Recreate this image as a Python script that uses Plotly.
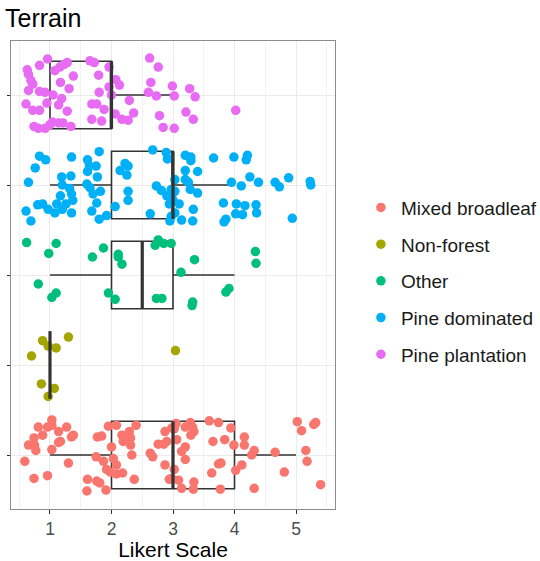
import plotly.graph_objects as go

# Land-cover categories, bottom to top on the vertical axis
categories = ["Mixed broadleaf", "Non-forest", "Other", "Pine dominated", "Pine plantation"]
colors = ["#F8766D", "#A3A500", "#00BF7D", "#00B0F6", "#E76BF3"]

# Box statistics per category (Likert scale)
box_low = [1, 1, 1, 1, 1]
box_q1 = [2, 1, 2, 2, 1]
box_median = [3, 1, 2.5, 3, 2]
box_q3 = [4, 1, 3, 3, 2]
box_high = [5, 1, 4, 4, 3]

# Jittered responses: Likert value (x) and vertical jitter within the category band
mixed_x = [0.59, 0.65, 0.74, 0.75, 0.77, 0.81, 0.88, 0.96, 1.03, 1.03, 1.14, 1.14, 1.17, 1.27,
           1.35, 1.38, 1.03, 1.30, 0.74, 0.96, 1.61, 1.60, 1.76, 1.81, 1.91, 1.75, 1.77, 1.84,
           1.87, 1.92, 1.98, 1.95, 2.08, 2.00, 2.03, 2.08, 2.08, 2.18, 2.17, 2.19, 2.29, 2.31,
           2.31, 2.40, 2.33, 2.37, 2.63, 2.67, 2.76, 2.87, 2.85, 2.90, 2.87, 2.94, 2.98,
           3.05, 3.02, 3.06, 3.20, 3.28, 3.32, 3.34, 3.29, 3.20, 3.14, 3.20, 3.02, 2.98, 3.09,
           3.14, 3.34, 3.33, 3.59, 3.74, 3.94, 3.65, 3.84, 3.99, 3.74, 3.78, 3.63, 3.77, 4.02,
           4.12, 4.16, 4.16, 4.28, 4.32, 4.32, 4.66, 4.81, 5.02, 5.09, 5.29, 5.32, 5.16, 5.18, 5.40]
mixed_jit = [-0.07, 0.11, 0.19, 0.11, 0.05, 0.31, 0.22, 0.31, 0.39, 0.33, 0.26, 0.14, 0.15, 0.31,
             0.20, 0.22, 0.06, -0.09, -0.26, -0.23, -0.27, -0.40, -0.29, -0.31, -0.39, -0.02, 0.20, 0.21,
             -0.07, -0.16, -0.19, 0.32, 0.33, 0.09, -0.04, -0.11, -0.21, -0.20, 0.22, 0.15, 0.26, 0.19,
             0.11, 0.33, 0.00, -0.27, 0.02, -0.02, 0.12, 0.26, 0.12, 0.15, -0.11, -0.27, 0.30,
             0.35, 0.29, 0.17, 0.31, 0.36, 0.31, 0.26, 0.22, 0.09, 0.04, -0.05, -0.16, -0.26, -0.28,
             -0.37, -0.30, -0.38, 0.38, 0.36, 0.30, 0.15, 0.17, 0.11, -0.10, -0.09, -0.20, -0.38, -0.17,
             -0.11, 0.20, 0.11, 0.00, 0.05, -0.37, 0.03, -0.19, 0.37, 0.27, 0.34, 0.36, 0.05, -0.07, -0.33]

nonforest_x = [0.88, 0.97, 1.10, 1.30, 0.70, 3.04, 0.86, 1.07, 0.97]
nonforest_jit = [0.27, 0.21, 0.19, 0.31, 0.10, 0.16, -0.21, -0.26, -0.35]

other_x = [0.62, 1.10, 0.98, 0.81, 1.03, 1.10, 1.69, 1.87, 2.11, 2.11, 2.17, 1.95, 2.06, 2.71,
           2.76, 2.85, 2.97, 2.73, 2.82, 3.13, 3.35, 3.32, 3.31, 3.86, 3.91, 4.34, 4.35]
other_jit = [0.36, 0.35, 0.24, -0.10, -0.25, -0.20, 0.20, 0.30, 0.23, 0.20, 0.12, -0.20, -0.27, 0.33,
             0.39, 0.35, 0.35, -0.26, -0.26, 0.03, 0.17, -0.30, -0.34, -0.19, -0.15, 0.26, 0.13]

pinedom_x = [0.83, 0.93, 0.76, 0.65, 0.61, 0.69, 0.80, 0.88, 0.97, 1.08, 1.11, 1.17, 1.20, 1.26,
             1.35, 1.19, 1.20, 1.34, 1.32, 1.35, 1.37, 1.35, 1.61, 1.80, 1.64, 1.75, 1.61, 1.77,
             1.60, 1.65, 1.70, 1.82, 1.76, 1.68, 1.80, 1.92, 2.06, 2.14, 2.22, 2.27, 2.25, 2.27,
             2.27, 2.67, 2.89, 2.91, 2.73, 2.81, 2.63, 2.90, 2.94, 2.95, 2.97, 3.00, 2.97,
             3.20, 3.29, 3.29, 3.20, 3.40, 3.03, 3.20, 3.25, 3.28, 3.40, 3.03, 2.98, 3.10, 3.33,
             3.03, 3.14, 3.32, 3.66, 3.99, 4.21, 4.19, 3.95, 4.11, 4.25, 4.39, 4.66, 4.73, 4.88,
             5.23, 5.24, 3.82, 4.03, 4.17, 4.35, 4.36, 4.02, 4.13, 3.86, 3.83, 4.94]
pinedom_jit = [0.32, 0.28, 0.19, 0.03, -0.29, -0.40, -0.22, -0.21, -0.27, -0.31, -0.21, -0.12, -0.27, -0.21,
               -0.31, 0.09, 0.00, 0.10, -0.04, -0.10, -0.17, 0.31, 0.28, 0.37, 0.21, 0.21, 0.15, 0.09,
               0.01, -0.03, -0.10, -0.07, -0.20, -0.29, -0.38, -0.34, -0.24, 0.16, 0.24, 0.21, 0.11, -0.07,
               -0.17, 0.39, 0.36, 0.29, -0.01, -0.06, -0.32, -0.12, -0.21, -0.40, -0.05, -0.17, -0.35,
               0.33, 0.31, 0.27, 0.16, 0.15, 0.06, 0.06, 0.03, -0.05, -0.09, -0.07, -0.12, -0.21, -0.27,
               -0.31, -0.39, -0.40, 0.30, 0.31, 0.33, 0.28, 0.03, -0.01, 0.09, 0.03, 0.03, -0.02, 0.08,
               0.04, 0.00, -0.20, -0.21, -0.23, -0.22, -0.31, -0.32, -0.33, -0.38, -0.41, -0.37]

pineplant_x = [0.96, 0.83, 0.63, 0.65, 0.69, 0.72, 0.65, 0.83, 0.92, 1.05, 0.61, 0.72, 0.83, 0.95,
               0.74, 0.81, 0.92, 1.00, 1.04, 1.14, 1.21, 1.34, 1.28, 1.14, 1.19, 1.17, 1.31, 1.38,
               1.08, 1.16, 1.23, 1.28, 1.65, 1.72, 1.79, 1.96, 1.80, 1.96, 2.00, 1.68, 1.76, 1.88,
               1.68, 1.84, 2.07, 2.13, 2.29, 2.06, 2.17, 2.27, 2.36, 2.62, 2.76, 2.64, 2.60, 2.73,
               2.99, 3.02, 3.27, 3.36, 2.78, 2.84, 3.02, 3.21, 3.33, 4.02]
pineplant_jit = [0.40, 0.33, 0.28, 0.23, 0.16, 0.12, 0.05, 0.04, 0.03, 0.00, -0.10, -0.17, -0.17, -0.09,
                 -0.35, -0.37, -0.37, -0.33, -0.30, -0.31, -0.31, -0.35, -0.18, -0.11, -0.04, 0.14, 0.07, 0.21,
                 0.27, 0.31, 0.34, 0.36, 0.38, 0.36, 0.22, 0.31, 0.03, 0.09, 0.00, -0.10, -0.10, -0.16,
                 -0.27, -0.29, 0.17, 0.11, -0.06, -0.21, -0.27, -0.28, -0.20, 0.41, 0.31, 0.14, 0.03, -0.01,
                 0.10, -0.01, 0.07, -0.02, -0.23, -0.36, -0.37, -0.19, -0.27, -0.17]

points_x = [mixed_x, nonforest_x, other_x, pinedom_x, pineplant_x]
points_jit = [mixed_jit, nonforest_jit, other_jit, pinedom_jit, pineplant_jit]

BOX_WIDTH = 0.75
FONT = "Liberation Sans, Arial, Helvetica, sans-serif"

fig = go.Figure()

# Jittered points, one trace per category (these feed the legend)
for i, name in enumerate(categories):
    pos = i + 1
    fig.add_trace(go.Scatter(
        x=points_x[i],
        y=[pos + j for j in points_jit[i]],
        mode="markers",
        name=name,
        legendgroup=name,
        marker=dict(color=colors[i], size=9.5, line=dict(width=0)),
        hoverinfo="x+name",
    ))

# Box-and-whisker summaries drawn over the points
for i, name in enumerate(categories):
    pos = i + 1
    fig.add_trace(go.Box(
        y=[pos],
        q1=[box_q1[i]], median=[box_median[i]], q3=[box_q3[i]],
        lowerfence=[box_low[i]], upperfence=[box_high[i]],
        orientation="h",
        width=BOX_WIDTH,
        whiskerwidth=0,
        fillcolor="rgba(0,0,0,0)",
        line=dict(color="#333333", width=1.6),
        boxpoints=False,
        showlegend=False,
        hoverinfo="skip",
    ))
    # heavier median bar
    fig.add_trace(go.Scatter(
        x=[box_median[i], box_median[i]],
        y=[pos - BOX_WIDTH / 2, pos + BOX_WIDTH / 2],
        mode="lines",
        line=dict(color="#333333", width=3.2),
        showlegend=False,
        hoverinfo="skip",
    ))

fig.update_layout(
    width=540, height=561,
    margin=dict(l=11, r=205, t=41, b=52, autoexpand=False),
    paper_bgcolor="white",
    plot_bgcolor="white",
    boxmode="overlay",
    font=dict(family=FONT, color="#000000"),
    title=dict(
        text="Terrain",
        x=5 / 540, xref="container", xanchor="left",
        y=1 - 9 / 561, yref="container", yanchor="top",
        font=dict(size=25, color="#000000", family=FONT),
    ),
    legend=dict(
        x=1.08, xanchor="left",
        y=0.487, yanchor="middle",
        font=dict(size=19, color="#1A1A1A", family=FONT),
        tracegroupgap=9,
        itemwidth=30,
        bgcolor="rgba(0,0,0,0)",
    ),
    showlegend=True,
)

fig.update_xaxes(
    range=[0.366, 5.634],
    automargin=False,
    tickvals=[1, 2, 3, 4, 5],
    ticktext=["1", "2", "3", "4", "5"],
    ticks="outside", ticklen=4, tickcolor="#333333", tickwidth=1,
    tickfont=dict(size=17.5, color="#4D4D4D", family=FONT),
    showgrid=True, gridcolor="#EBEBEB", gridwidth=1.2,
    minor=dict(tickvals=[0.5, 1.5, 2.5, 3.5, 4.5, 5.5], showgrid=True,
               gridcolor="#F2F2F2", gridwidth=0.8, ticks=""),
    showline=True, linecolor="#8C8C8C", linewidth=1.2, mirror=True,
    zeroline=False,
    title=dict(text="Likert Scale", font=dict(size=21, color="#000000", family=FONT), standoff=4),
)

fig.update_yaxes(
    range=[0.4, 5.6],
    automargin=False,
    tickvals=[1, 2, 3, 4, 5],
    ticktext=["", "", "", "", ""],
    ticks="outside", ticklen=3, tickcolor="#333333", tickwidth=1,
    showgrid=True, gridcolor="#EBEBEB", gridwidth=1.2,
    showline=True, linecolor="#8C8C8C", linewidth=1.2, mirror=True,
    zeroline=False,
)

fig.write_html("out.html")
